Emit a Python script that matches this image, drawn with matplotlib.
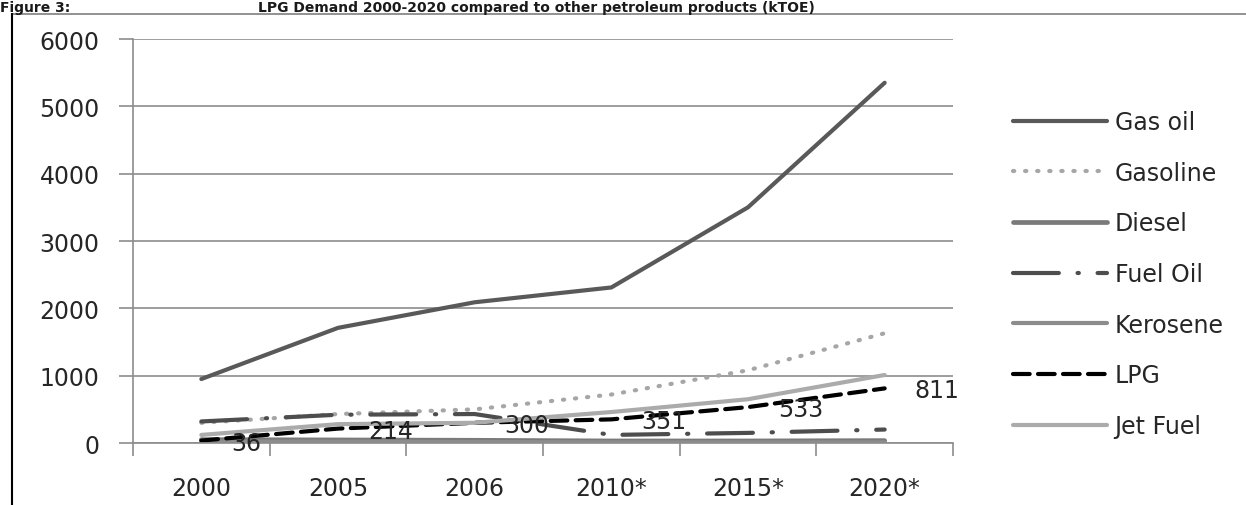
import matplotlib.pyplot as plt
from matplotlib.lines import Line2D
import numpy as np

# Data (kTOE)
years = ['2000', '2005', '2006', '2010*', '2015*', '2020*']
gas_oil = [950, 1710, 2090, 2310, 3500, 5350]
gasoline = [300, 430, 500, 720, 1080, 1630]
diesel = [50, 45, 40, 30, 30, 35]
fuel_oil = [320, 420, 430, 120, 150, 200]
kerosene = [20, 20, 15, 10, 10, 10]
lpg = [36, 214, 300, 351, 533, 811]
jet_fuel = [120, 280, 300, 460, 650, 1010]

plt.rcParams['font.family'] = ['DejaVu Sans']

fig = plt.figure(figsize=(12.46, 5.06), dpi=100)
ax = fig.add_axes([133 / 1246, 1 - 444 / 506, (953 - 133) / 1246, 404 / 506])

x = np.arange(len(years))

ax.plot(x, gas_oil, color='#595959', lw=3, solid_capstyle='round', label='Gas oil')
ax.plot(x, gasoline, color='#a6a6a6', lw=3, linestyle=(0, (0.3, 2.6)),
        dash_capstyle='round', label='Gasoline')
ax.plot(x, diesel, color='#7a7a7a', lw=3.4, solid_capstyle='round', label='Diesel')
ax.plot(x, fuel_oil, color='#4d4d4d', lw=3, linestyle=(0, (11, 4.5, 0.3, 4.5)),
        dash_capstyle='round', label='Fuel Oil')
ax.plot(x, kerosene, color='#8c8c8c', lw=3, solid_capstyle='round', label='Kerosene')
ax.plot(x, lpg, color='black', lw=3, linestyle=(0, (4, 2)),
        dash_capstyle='round', label='LPG')
ax.plot(x, jet_fuel, color='#ababab', lw=3, solid_capstyle='round', label='Jet Fuel')

# LPG value labels
for xi, v in zip(x, lpg):
    ax.annotate(str(v), (xi, v), xytext=(30, -2), textcoords='offset pixels',
                ha='left', va='center', fontsize=17, color='#262626')

ax.set_xlim(-0.5, 5.5)
ax.set_ylim(0, 6000)
ax.set_yticks(np.arange(0, 6001, 1000))
ax.yaxis.grid(True, color='#8c8c8c', lw=1.2)
ax.set_axisbelow(True)

ax.set_xticks(np.arange(-0.5, 5.6, 1))
ax.set_xticklabels([])
ax.set_xticks(x, minor=True)
ax.set_xticklabels(years, minor=True)
ax.tick_params(axis='x', which='major', length=9, width=1.2, color='#8c8c8c')
ax.tick_params(axis='x', which='minor', length=0, pad=24, labelsize=17, labelcolor='#262626')
ax.tick_params(axis='y', length=10, width=1.2, color='#8c8c8c', pad=14,
               labelsize=17, labelcolor='#262626')

for s in ['top', 'right']:
    ax.spines[s].set_visible(False)
for s in ['left', 'bottom']:
    ax.spines[s].set_color('#8c8c8c')
    ax.spines[s].set_linewidth(1.2)

ax.legend(loc='upper left', bbox_to_anchor=(1013 / 1246, 1 - 111 / 506),
          bbox_transform=fig.transFigure, frameon=False, fontsize=17,
          handlelength=4.0, handletextpad=0.3, labelspacing=1.13,
          borderpad=0, borderaxespad=0, labelcolor='#262626')

# outer frame of the chart
fig.add_artist(Line2D([12 / 1246, 1], [1 - 15 / 506, 1 - 15 / 506],
                      transform=fig.transFigure, color='#7f7f7f', lw=1.2))
fig.add_artist(Line2D([12 / 1246, 12 / 1246], [0, 1 - 15 / 506],
                      transform=fig.transFigure, color='black', lw=1.5))

# figure caption above the frame
fig.text(0.0, 1 - 1 / 506, 'Figure 3:', fontsize=10, fontweight='bold',
         ha='left', va='top', color='#1a1a1a')
fig.text(258 / 1246, 1 - 1 / 506,
         'LPG Demand 2000-2020 compared to other petroleum products (kTOE)',
         fontsize=10, fontweight='bold', ha='left', va='top', color='#1a1a1a')

fig.savefig('out.png', dpi=100)
